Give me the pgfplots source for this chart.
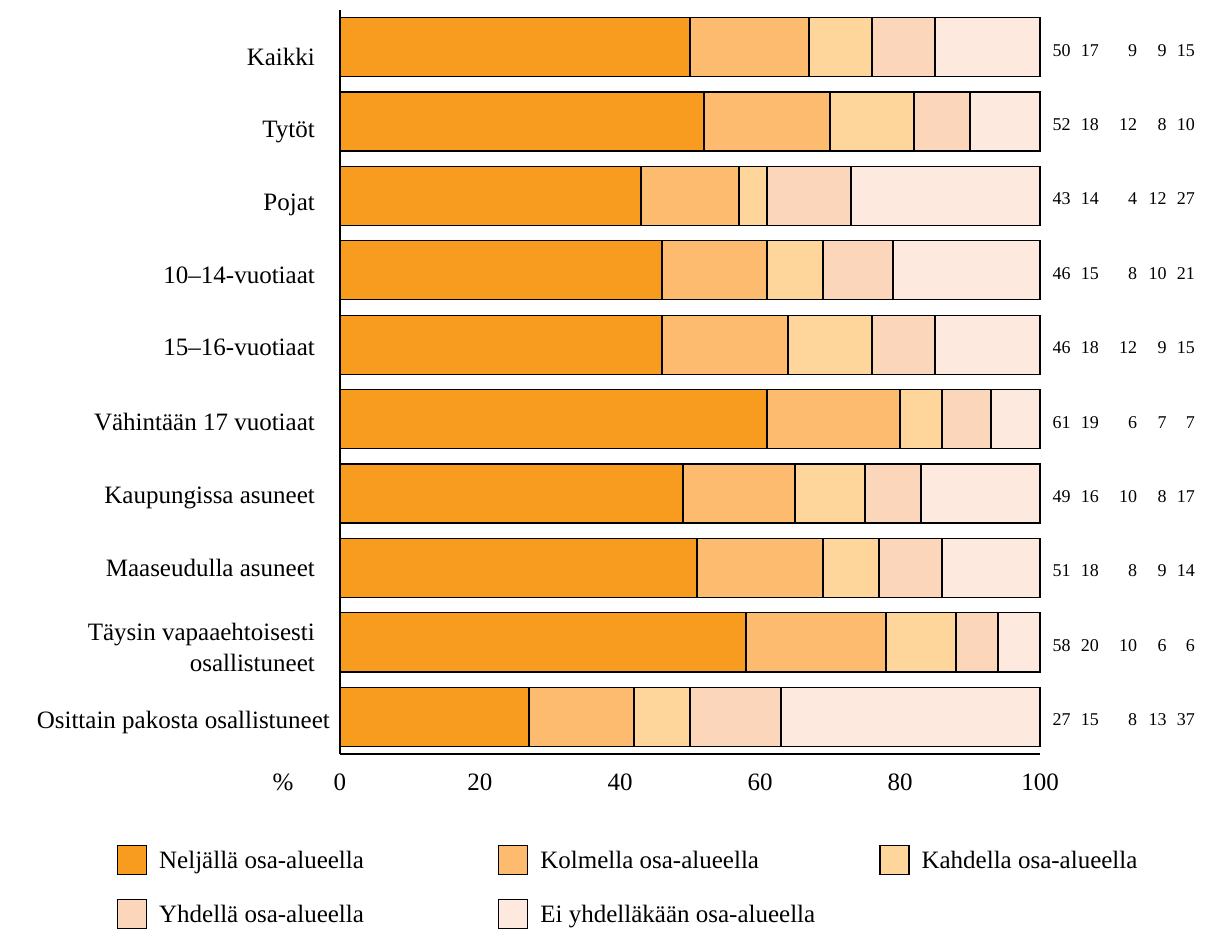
\documentclass[border=0pt]{standalone}
\usepackage{fontspec}
\setmainfont{Liberation Serif}
\usepackage{pgfplots}
\pgfplotsset{compat=1.18}
\usepackage{pgfplotstable}

\definecolor{c1}{HTML}{F89C1F}
\definecolor{c2}{HTML}{FDBB6F}
\definecolor{c3}{HTML}{FED69B}
\definecolor{c4}{HTML}{FCD6BA}
\definecolor{c5}{HTML}{FDE9DD}

\pgfplotstableread{
y a b c d e
9 50 17 9 9 15
8 52 18 12 8 10
7 43 14 4 12 27
6 46 15 8 10 21
5 46 18 12 9 15
4 61 19 6 7 7
3 49 16 10 8 17
2 51 18 8 9 14
1 58 20 10 6 6
0 27 15 8 13 37
}\data

\newcommand{\lt}[1]{\makebox[330pt][l]{#1}}
\newcommand{\yl}[2]{\raisebox{#1}[0pt][0pt]{#2}}

\pgfplotsset{
  seg/.style={xbar stacked, fill=#1, draw=black, line width=1.2pt,
    legend image code/.code={\draw[##1, line width=1.2pt] (0pt,-14.5pt) rectangle (29pt,14.5pt);}},
}

\begin{document}
\begin{tikzpicture}
\begin{axis}[
  at={(0,0)}, anchor=south west, scale only axis,
  width=700pt, height=744pt,
  xmin=0, xmax=100, ymin=-0.5, ymax=9.5,
  bar width=59pt,
  clip=false,
  axis x line*=bottom, axis y line*=left,
  axis line style={line width=1.3pt, black},
  major tick length=0pt,
  xtick={0,20,...,100},
  ytick={0,...,9},
  yticklabels={
    \yl{-11.2pt}{Osittain pakosta osallistuneet\kern-15pt},
    {\yl{-13.2pt}{\begin{tabular}{@{}r@{}}Täysin vapaaehtoisesti\\osallistuneet\end{tabular}}},
    \yl{-8.2pt}{Maaseudulla asuneet},
    \yl{-10.2pt}{Kaupungissa asuneet},
    \yl{-11.2pt}{Vähintään 17 vuotiaat},
    \yl{-11.2pt}{15–16-vuotiaat},
    \yl{-13.2pt}{10–14-vuotiaat},
    \yl{-14.2pt}{Pojat},
    \yl{-16.2pt}{Tytöt},
    \yl{-18.2pt}{Kaikki}},
  yticklabel style={font=\fontsize{25}{31}\selectfont, inner sep=0pt, xshift=-25pt},
  xticklabel style={font=\fontsize{25}{29}\selectfont, inner sep=0pt, yshift=-20pt},
  /pgf/number format/assume math mode=true,
  legend columns=3,
  legend cell align=left,
  legend style={at={(axis description cs:-0.31857,-0.12231)}, anchor=north west,
    draw=none, fill=none, inner sep=0pt, outer sep=0pt, row sep=24pt,
    font=\fontsize{25}{29}\selectfont,
    nodes={inner sep=0pt},
    /tikz/every odd column/.append style={column sep=12pt},
    /tikz/every even column/.append style={column sep=9pt}},
]
\addplot[seg=c1] table[x=a, y=y]{\data};
\addlegendentry{\lt{Neljällä osa-alueella}}
\addplot[seg=c2] table[x=b, y=y]{\data};
\addlegendentry{\lt{Kolmella osa-alueella}}
\addplot[seg=c3] table[x=c, y=y]{\data};
\addlegendentry{\lt{Kahdella osa-alueella}}
\addplot[seg=c4] table[x=d, y=y]{\data};
\addlegendentry{\lt{Yhdellä osa-alueella}}
\addplot[seg=c5] table[x=e, y=y]{\data};
\addlegendentry{\lt{Ei yhdelläkään osa-alueella}}

\pgfplotsset{numstyle/.style={forget plot, stack plots=false, sharp plot, draw=none, mark=none,
  nodes near coords, point meta=explicit symbolic,
  every node near coord/.append style={anchor=east, inner sep=0pt, yshift=-3pt, font=\fontsize{18}{21}\selectfont, text=black}}}
\addplot[numstyle] table[x expr=104.4, y=y, meta=a]{\data};
\addplot[numstyle] table[x expr=108.43, y=y, meta=b]{\data};
\addplot[numstyle] table[x expr=113.9, y=y, meta=c]{\data};
\addplot[numstyle] table[x expr=118.1, y=y, meta=d]{\data};
\addplot[numstyle] table[x expr=122.14, y=y, meta=e]{\data};
\end{axis}
\node[anchor=base, font=\fontsize{25}{29}\selectfont, inner sep=0pt] at (-57pt,-36pt) {\%};
\pgfresetboundingbox
\useasboundingbox (-340pt,-177pt) rectangle (866pt,754pt);
\end{tikzpicture}
\end{document}
